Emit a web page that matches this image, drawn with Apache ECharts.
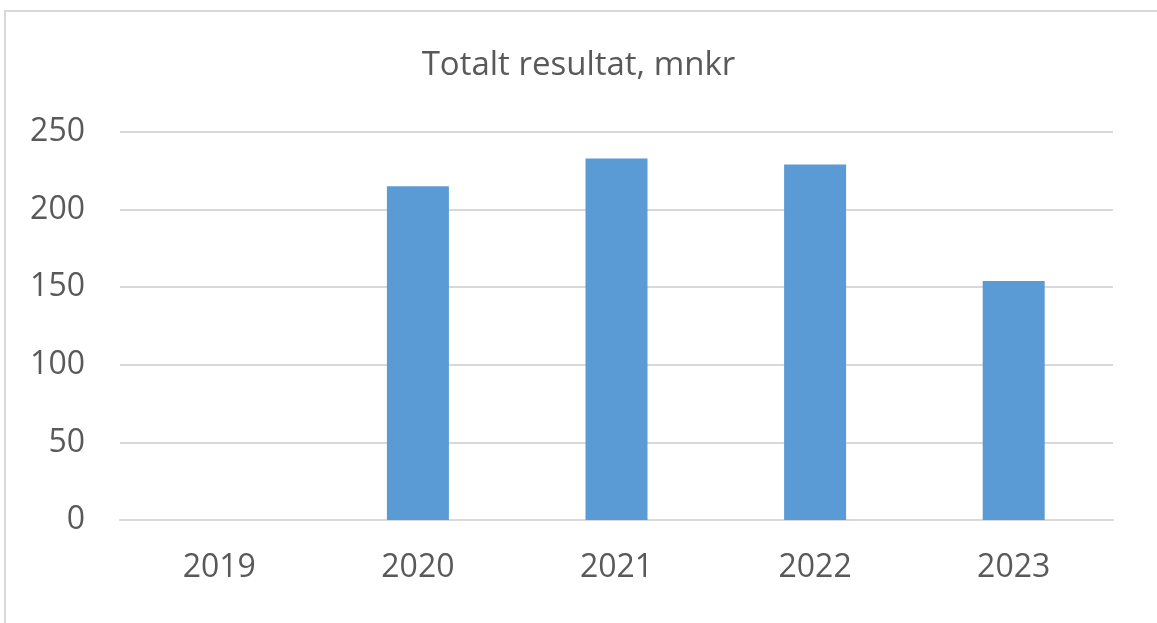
<!DOCTYPE html>
<html>
<head>
<meta charset="utf-8">
<script src="https://cdn.jsdelivr.net/npm/echarts@6/dist/echarts.min.js"></script>
<style>
  html, body { margin: 0; padding: 0; background: #fff; }
  #frame { position: absolute; left: 4px; top: 10px; width: 1153px; height: 613px;
    border-top: 2px solid #d9d9d9; border-left: 2px solid #d9d9d9; box-sizing: border-box; }
  #main { position: absolute; left: 0; top: 0; width: 1157px; height: 623px; }
</style>
</head>
<body>
<div id="frame"></div>
<div id="main"></div>
<script>
// data
var years = ['2019', '2020', '2021', '2022', '2023']
var result = [0, 215, 233, 229, 154]
var yTicks = [0, 50, 100, 150, 200, 250]

var myChart = echarts.init(document.getElementById('main'))
var option = {
  animation: false,
  textStyle: { fontFamily: 'Open Sans' },
  title: {
    text: 'Totalt resultat, mnkr',
    left: 'center',
    top: 44,
    textStyle: { fontSize: 33, fontWeight: 'normal', color: '#595959', fontFamily: 'Open Sans' }
  },
  grid: { left: 120, right: 44, top: 132, bottom: 103 },
  xAxis: {
    type: 'category',
    data: years,
    axisLine: { lineStyle: { color: '#d9d9d9', width: 2 } },
    axisTick: { show: false },
    axisLabel: { fontSize: 32, color: '#595959', margin: 32 }
  },
  yAxis: {
    type: 'value',
    min: yTicks[0],
    max: yTicks[yTicks.length - 1],
    interval: 50,
    axisLine: { show: false },
    axisTick: { show: false },
    splitLine: { lineStyle: { color: '#d9d9d9', width: 2 } },
    axisLabel: { fontSize: 32, color: '#595959', margin: 35 }
  },
  series: [{
    type: 'bar',
    data: result,
    barWidth: 62,
    itemStyle: { color: '#5b9bd5' }
  }]
}
myChart.setOption(option)
</script>
</body>
</html>
